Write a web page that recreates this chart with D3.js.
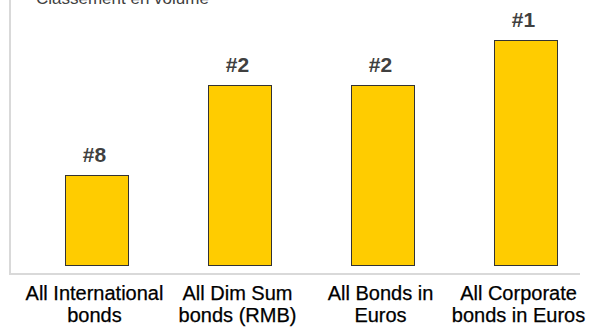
<!DOCTYPE html>
<html>
<head>
<meta charset="utf-8">
<script src="https://cdn.jsdelivr.net/npm/d3@7"></script>
<style>
	body { margin: 0; background: #fff; }
	svg { display: block; }
	.axis-line { stroke: #d9d9d9; stroke-width: 2; }
	.bar { fill: #ffcc00; stroke: #333; stroke-width: 1; }
	.rank-text { font-family: 'Liberation Sans', Arial, sans-serif; font-weight: bold; font-size: 21px; fill: #404040; }
	.cat-text { font-family: 'Liberation Sans', Arial, sans-serif; font-size: 20px; fill: #000; stroke: #000; stroke-width: 0.25; }
	.title-text { font-family: 'Liberation Sans', Arial, sans-serif; font-size: 17px; fill: #404040; }
</style>
</head>
<body>
<div id="chart"></div>
<script>

var categories = ['All International bonds', 'All Dim Sum bonds (RMB)', 'All Bonds in Euros', 'All Corporate bonds in Euros'];
var categoryLines = [['All International', 'bonds'], ['All Dim Sum', 'bonds (RMB)'], ['All Bonds in', 'Euros'], ['All Corporate', 'bonds in Euros']];
var scores = [2, 4, 4, 5];
var ranks = ['#8', '#2', '#2', '#1'];
var title = 'Classement en volume';

var dim = { w: 601, h: 333 };

var svg = d3.select('#chart').append('svg')
	.attr('width', dim.w)
	.attr('height', dim.h);

var x = d3.scaleBand()
	.domain(categories)
	.range([25, 597])
	.paddingInner(0.56)
	.paddingOuter(0.28);

var y = d3.scaleLinear()
	.domain([0, 5])
	.range([265, 40]);

//title (cut at the top like the original)
svg.append('text')
	.attr('x', 36)
	.attr('y', 4)
	.text(title)
	.attr('class', 'title-text');

//axis lines
svg.append('line')
	.attr('x1', 10).attr('x2', 10)
	.attr('y1', 0).attr('y2', 274)
	.attr('class', 'axis-line');
svg.append('line')
	.attr('x1', 9).attr('x2', 580)
	.attr('y1', 274).attr('y2', 274)
	.attr('class', 'axis-line');

//bars
svg.selectAll('.bar')
	.data(scores)
	.enter().append('rect')
	.attr('x', function (d, i) { return Math.round(x(categories[i])) + 0.5; })
	.attr('y', function (d) { return Math.round(y(d)) + 0.5; })
	.attr('width', Math.round(x.bandwidth()))
	.attr('height', function (d) { return Math.round(y(0)) - Math.round(y(d)); })
	.attr('class', 'bar');

//rank labels
svg.selectAll('.rank-text')
	.data(scores)
	.enter().append('text')
	.attr('x', function (d, i) { return x(categories[i]) + x.bandwidth() / 2 - 2; })
	.attr('y', function (d) { return y(d) - 13; })
	.attr('text-anchor', 'middle')
	.text(function (d, i) { return ranks[i]; })
	.attr('class', 'rank-text');

//category labels
var labels = svg.selectAll('.cat-text')
	.data(categories)
	.enter().append('text')
	.attr('text-anchor', 'middle')
	.attr('class', 'cat-text');
labels.each(function (c, i) {
	var cx = x(c) + x.bandwidth() / 2 - (i === categories.length - 1 ? 7 : 2);
	d3.select(this).selectAll('tspan')
		.data(categoryLines[i])
		.enter().append('tspan')
		.attr('x', cx)
		.attr('y', function (l, j) { return 300 + j * 22; })
		.text(function (l) { return l; });
});

</script>
</body>
</html>
